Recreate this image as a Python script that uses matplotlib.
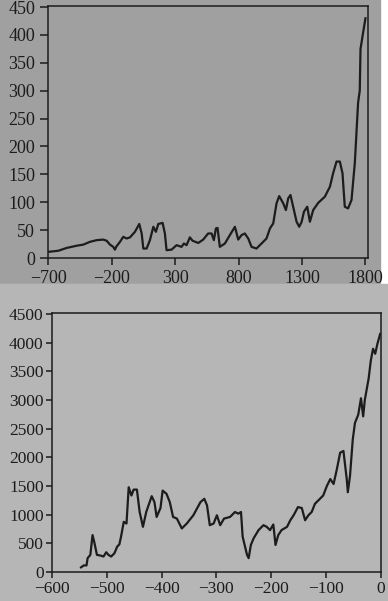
import matplotlib
matplotlib.use("Agg")
import matplotlib.pyplot as plt
from matplotlib.patches import Rectangle

# top chart: years and values
top_x = [-700, -621, -556, -477, -424, -372, -319, -267, -240, -214, -188, -175,
         -162, -135, -109, -83, -56, -17, 17, 36, 49, 75, 101, 128, 148, 167, 201,
         219, 232, 272, 311, 350, 369, 390, 416, 437, 482, 521, 560, 587, 605, 621,
         634, 652, 692, 731, 771, 797, 823, 849, 876, 902, 941, 994, 1020, 1047,
         1073, 1099, 1120, 1152, 1173, 1191, 1209, 1230, 1257, 1278, 1297, 1315,
         1341, 1362, 1388, 1428, 1480, 1520, 1545, 1572, 1598, 1619, 1637, 1663,
         1690, 1716, 1742, 1755, 1761, 1782, 1800]
top_y = [11, 13, 18, 22, 24, 29, 32, 33, 31, 24, 20, 15,
         21, 29, 38, 35, 37, 47, 61, 44, 17, 17, 32, 56, 47, 61, 63,
         44, 14, 15, 23, 20, 26, 23, 37, 31, 27, 33, 44, 44, 32, 53,
         54, 20, 26, 41, 56, 33, 41, 44, 35, 20, 17, 29, 35, 53,
         62, 98, 111, 98, 86, 107, 113, 92, 65, 56, 65, 83,
         92, 65, 86, 99, 110, 128, 152, 173, 173, 152, 92, 89,
         104, 170, 279, 300, 375, 405, 430]
top_xticks = [-700, -200, 300, 800, 1300, 1800]
top_yticks = [0, 50, 100, 150, 200, 250, 300, 350, 400, 450]

# bottom chart: years and values
bot_x = [-547, -542, -537, -535, -530, -526, -523, -518, -512, -506, -501, -497,
         -492, -486, -481, -477, -474, -469, -464, -460, -455, -451, -445, -440,
         -434, -428, -418, -413, -409, -402, -398, -391, -385, -379, -372, -363,
         -354, -342, -329, -322, -317, -312, -305, -299, -293, -286, -275, -266,
         -260, -255, -252, -244, -241, -237, -232, -223, -214, -208, -202, -196,
         -192, -187, -181, -171, -165, -159, -151, -144, -138, -132, -126, -120,
         -111, -105, -98, -92, -86, -80, -74, -68, -62, -60, -56, -51, -47, -41,
         -36, -32, -29, -22, -18, -14, -10, -6, -1]
bot_y = [81, 115, 115, 242, 299, 644, 529, 299, 288, 270, 345, 299,
         270, 328, 443, 483, 616, 875, 846, 1479, 1335, 1438, 1438, 1047,
         788, 1047, 1323, 1220, 961, 1116, 1421, 1364, 1220, 961, 932, 760,
         846, 990, 1220, 1277, 1162, 817, 846, 990, 817, 932, 961, 1047,
         1018, 1047, 616, 299, 242, 472, 587, 731, 817, 788, 731, 829,
         472, 644, 731, 788, 903, 990, 1133, 1116, 903, 990, 1047, 1191,
         1277, 1335, 1507, 1622, 1536, 1795, 2083, 2112, 1622, 1392, 1680, 2313, 2601, 2745,
         3032, 2716, 3003, 3377, 3694, 3895, 3809, 3982, 4154]
bot_xticks = [-600, -500, -400, -300, -200, -100, 0]
bot_yticks = [0, 500, 1000, 1500, 2000, 2500, 3000, 3500, 4000, 4500]

plt.rcParams['font.family'] = ['Liberation Serif', 'DejaVu Serif']
plt.rcParams['axes.unicode_minus'] = True

W, H = 388, 601
fig = plt.figure(figsize=(W / 100, H / 100), dpi=100, facecolor='white')

# paper backgrounds of the two photographed pieces
fig.patches.append(Rectangle((0, 1 - 283 / H), 380 / W, 283 / H,
                             transform=fig.transFigure, color='#a0a0a0', zorder=-5))
fig.patches.append(Rectangle((0, 0), 1, 1 - 284 / H,
                             transform=fig.transFigure, color='#b6b6b6', zorder=-5))

ink = '#1c1c1c'


def style(ax, xticks, yticks, ylen, ypad, xlen, xpad, size=13):
    ax.set_facecolor('none')
    for s in ax.spines.values():
        s.set_color(ink)
        s.set_linewidth(1.1)
    ax.set_xticks(xticks)
    ax.set_yticks(yticks)
    ax.tick_params(direction='out', width=1.1, color=ink,
                   labelsize=size, labelcolor=ink)
    ax.tick_params(axis='y', length=ylen, pad=ypad)
    ax.tick_params(axis='x', length=xlen, pad=xpad)


ax1 = fig.add_axes([48.3 / W, 1 - 258 / H, (368 - 48.3) / W, (258 - 6) / H])
ax1.plot(top_x, top_y, color=ink, lw=1.6)
ax1.set_xlim(-700, 1820)
ax1.set_ylim(0, 452)
style(ax1, top_xticks, top_yticks, 6, 3.5, 5, 3.5)

ax2 = fig.add_axes([52 / W, 1 - 572 / H, (380.7 - 52) / W, (572 - 313) / H])
ax2.plot(bot_x, bot_y, color=ink, lw=1.6)
ax2.set_xlim(-600, 0)
ax2.set_ylim(0, 4520)
style(ax2, bot_xticks, bot_yticks, 4, 2, 4, 2.5, size=12.5)

fig.savefig('out.png', dpi=100, facecolor='white')
